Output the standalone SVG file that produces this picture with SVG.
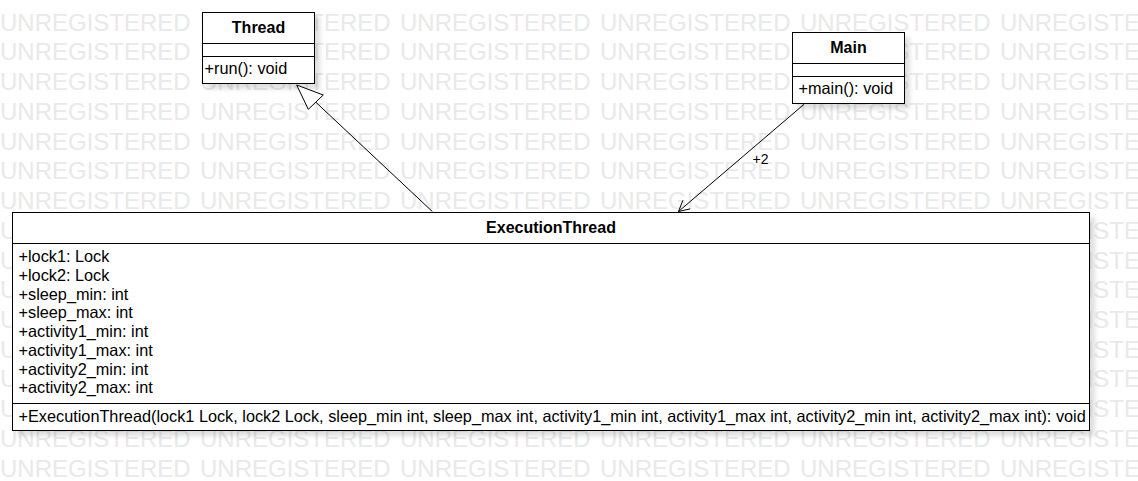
<svg xmlns="http://www.w3.org/2000/svg" xmlns:xlink="http://www.w3.org/1999/xlink" width="1138" height="481" viewBox="0 0 1138 481">
<defs>
<style>
.wm{font-family:"Liberation Sans",Arial,sans-serif;font-size:24px;fill:#e9e9e9}
.box{fill:#fff;stroke:#000;stroke-width:1}
.div{stroke:#000;stroke-width:1}
.title{font-family:"Liberation Sans",Arial,sans-serif;font-size:16px;font-weight:bold;fill:#000;text-anchor:middle}
.mem{font-family:"Liberation Sans",Arial,sans-serif;font-size:16.27px;fill:#000}
.lbl{font-family:"Liberation Sans",Arial,sans-serif;font-size:14px;fill:#000}
.edge{fill:none;stroke:#000;stroke-width:1}
</style>
<filter id="sh" x="-10%" y="-10%" width="130%" height="130%">
<feDropShadow dx="5" dy="5" stdDeviation="2" flood-color="#000" flood-opacity="0.12"/>
</filter>
<g id="wmrow">
<text class="wm" x="0">UNREGISTERED</text>
<text class="wm" x="200">UNREGISTERED</text>
<text class="wm" x="400">UNREGISTERED</text>
<text class="wm" x="600">UNREGISTERED</text>
<text class="wm" x="800">UNREGISTERED</text>
<text class="wm" x="1000">UNREGISTERED</text>
</g>
</defs>
<rect width="1138" height="481" fill="#fff"/>
<g id="watermark">
<use xlink:href="#wmrow" y="30.7"/>
<use xlink:href="#wmrow" y="60.4"/>
<use xlink:href="#wmrow" y="90.1"/>
<use xlink:href="#wmrow" y="119.9"/>
<use xlink:href="#wmrow" y="149.6"/>
<use xlink:href="#wmrow" y="179.3"/>
<use xlink:href="#wmrow" y="209.0"/>
<use xlink:href="#wmrow" y="238.7"/>
<use xlink:href="#wmrow" y="268.5"/>
<use xlink:href="#wmrow" y="298.2"/>
<use xlink:href="#wmrow" y="327.9"/>
<use xlink:href="#wmrow" y="357.6"/>
<use xlink:href="#wmrow" y="387.3"/>
<use xlink:href="#wmrow" y="417.1"/>
<use xlink:href="#wmrow" y="446.8"/>
<use xlink:href="#wmrow" y="476.5"/>
</g>
<g id="node-thread">
<rect class="box" x="202.5" y="12.5" width="112" height="71" filter="url(#sh)"/>
<line class="div" x1="202.5" y1="43.5" x2="314.5" y2="43.5"/>
<line class="div" x1="202.5" y1="56.5" x2="314.5" y2="56.5"/>
<text class="title" x="258.5" y="32.5">Thread</text>
<text class="mem" x="204.5" y="74">+run(): void</text>
</g>
<g id="node-main">
<rect class="box" x="792.5" y="32.5" width="112" height="71" filter="url(#sh)"/>
<line class="div" x1="792.5" y1="63.5" x2="904.5" y2="63.5"/>
<line class="div" x1="792.5" y1="76.5" x2="904.5" y2="76.5"/>
<text class="title" x="848.5" y="52.5">Main</text>
<text class="mem" x="798.5" y="94">+main(): void</text>
</g>
<g id="node-executionthread">
<rect class="box" x="12.5" y="212.5" width="1077" height="218" filter="url(#sh)"/>
<line class="div" x1="12.5" y1="243.5" x2="1089.5" y2="243.5"/>
<line class="div" x1="12.5" y1="403.5" x2="1089.5" y2="403.5"/>
<text class="title" x="551" y="232.5">ExecutionThread</text>
<text class="mem" x="18.5" y="262.3">+lock1: Lock</text>
<text class="mem" x="18.5" y="281">+lock2: Lock</text>
<text class="mem" x="18.5" y="299.7">+sleep_min: int</text>
<text class="mem" x="18.5" y="318.4">+sleep_max: int</text>
<text class="mem" x="18.5" y="337.1">+activity1_min: int</text>
<text class="mem" x="18.5" y="355.8">+activity1_max: int</text>
<text class="mem" x="18.5" y="374.5">+activity2_min: int</text>
<text class="mem" x="18.5" y="393.2">+activity2_max: int</text>
<text class="mem" x="18.5" y="421.7">+ExecutionThread(lock1 Lock, lock2 Lock, sleep_min int, sleep_max int, activity1_min int, activity1_max int, activity2_min int, activity2_max int): void</text>
</g>
<g id="connectors">
<g id="edge-generalization">
<line class="edge" x1="432.3" y1="211.5" x2="315.8" y2="102.2"/>
<polygon points="296.7,85 323.3,95 308.3,109.3" fill="#fff" stroke="#000" stroke-width="1"/>
</g>
<g id="edge-association">
<line class="edge" x1="804" y1="104.3" x2="678.5" y2="211.5"/>
<polyline class="edge" points="682.9,200.3 678.5,211.5 690.2,208.9"/>
<text class="lbl" x="752.5" y="164">+2</text>
</g>
</g>
</svg>
